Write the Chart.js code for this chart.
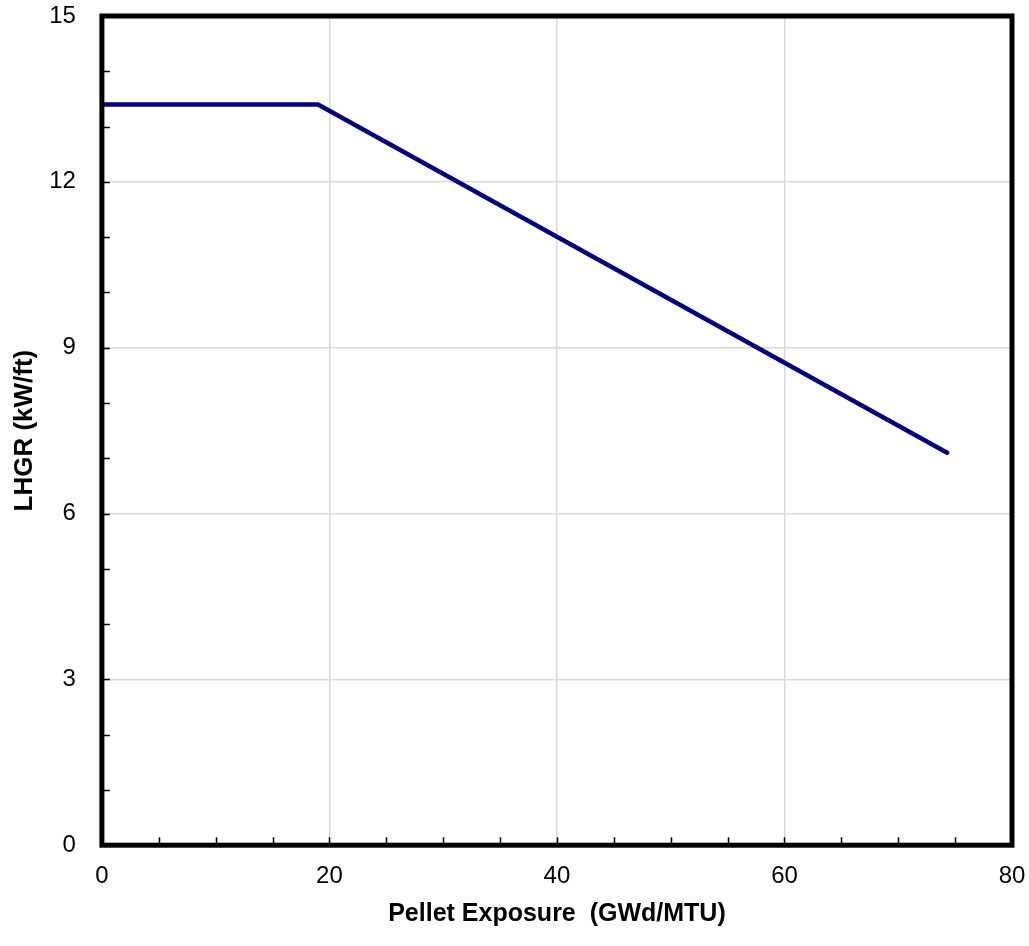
<!DOCTYPE html>
<html>
<head>
<meta charset="utf-8">
<script src="https://cdn.jsdelivr.net/npm/chart.js@4"></script>
<style>
  html, body { margin: 0; padding: 0; background: #fff; }
  #wrap { width: 1029px; height: 946px; }
</style>
</head>
<body>
<div id="wrap"><canvas id="lhgrChart" width="1029" height="946"></canvas></div>
<script>
// Limit curve
const exposure = [0, 19, 74.3];   // GWd/MTU
const lhgr = [13.4, 13.4, 7.1];   // kW/ft

const xTitle = 'Pellet Exposure  (GWd/MTU)';
const yTitle = 'LHGR (kW/ft)';

//Frame and inward minor ticks
const framePlugin = {
    id: 'frame',
    afterDraw(chart) {
        const ctx = chart.ctx;
        const a = chart.chartArea;
        const xs = chart.scales.x, ys = chart.scales.y;
        ctx.save();
        ctx.strokeStyle = '#000';
        ctx.lineWidth = 1.5;
        ctx.beginPath();
        for (let v = 5; v < 80; v += 5) {
            const px = Math.round(xs.getPixelForValue(v)) + 0.5;
            ctx.moveTo(px, a.bottom);
            ctx.lineTo(px, a.bottom - 8);
        }
        for (let v = 1; v < 15; v++) {
            const py = Math.round(ys.getPixelForValue(v)) + 0.5;
            ctx.moveTo(a.left, py);
            ctx.lineTo(a.left + 8, py);
        }
        ctx.stroke();
        ctx.lineWidth = 5;
        ctx.strokeRect(a.left, a.top, a.right - a.left, a.bottom - a.top);
        ctx.restore();
    }
};

const config = {
    type: 'line',
    data: {
        datasets: [{
            data: exposure.map((x, i) => ({ x: x, y: lhgr[i] })),
            borderColor: '#000080',
            borderWidth: 4.5,
            borderCapStyle: 'round',
            pointRadius: 0,
            fill: false,
            tension: 0
        }]
    },
    options: {
        responsive: false,
        animation: false,
        layout: { padding: { top: 16, right: 17, left: 9, bottom: 17 } },
        plugins: {
            legend: { display: false },
            tooltip: { enabled: false }
        },
        scales: {
            x: {
                type: 'linear',
                min: 0,
                max: 80,
                border: { display: false },
                grid: {
                    drawTicks: true,
                    tickLength: 17,
                    tickColor: 'rgba(0,0,0,0)',
                    color: c => (c.tick && c.tick.value % 20 === 0 && c.tick.value > 0 && c.tick.value < 80) ? '#d9d9d9' : 'rgba(0,0,0,0)',
                    lineWidth: 1.5
                },
                ticks: {
                    stepSize: 20,
                    padding: 0,
                    color: '#000',
                    font: { family: 'Liberation Sans, Arial', size: 24 }
                },
                title: {
                    display: true,
                    text: xTitle,
                    color: '#000',
                    padding: { top: 8, bottom: 0 },
                    font: { family: 'Liberation Sans, Arial', size: 25, weight: 'bold' }
                }
            },
            y: {
                min: 0,
                max: 15,
                border: { display: false },
                grid: {
                    drawTicks: true,
                    tickLength: 26,
                    tickColor: 'rgba(0,0,0,0)',
                    color: c => (c.tick && c.tick.value > 0 && c.tick.value < 15) ? '#d9d9d9' : 'rgba(0,0,0,0)',
                    lineWidth: 1.5
                },
                ticks: {
                    stepSize: 3,
                    padding: 0,
                    color: '#000',
                    font: { family: 'Liberation Sans, Arial', size: 24 }
                },
                title: {
                    display: true,
                    text: yTitle,
                    color: '#000',
                    padding: { top: 0, bottom: 9 },
                    font: { family: 'Liberation Sans, Arial', size: 26, weight: 'bold' }
                }
            }
        }
    },
    plugins: [framePlugin]
};

new Chart(document.getElementById('lhgrChart').getContext('2d'), config);
</script>
</body>
</html>
